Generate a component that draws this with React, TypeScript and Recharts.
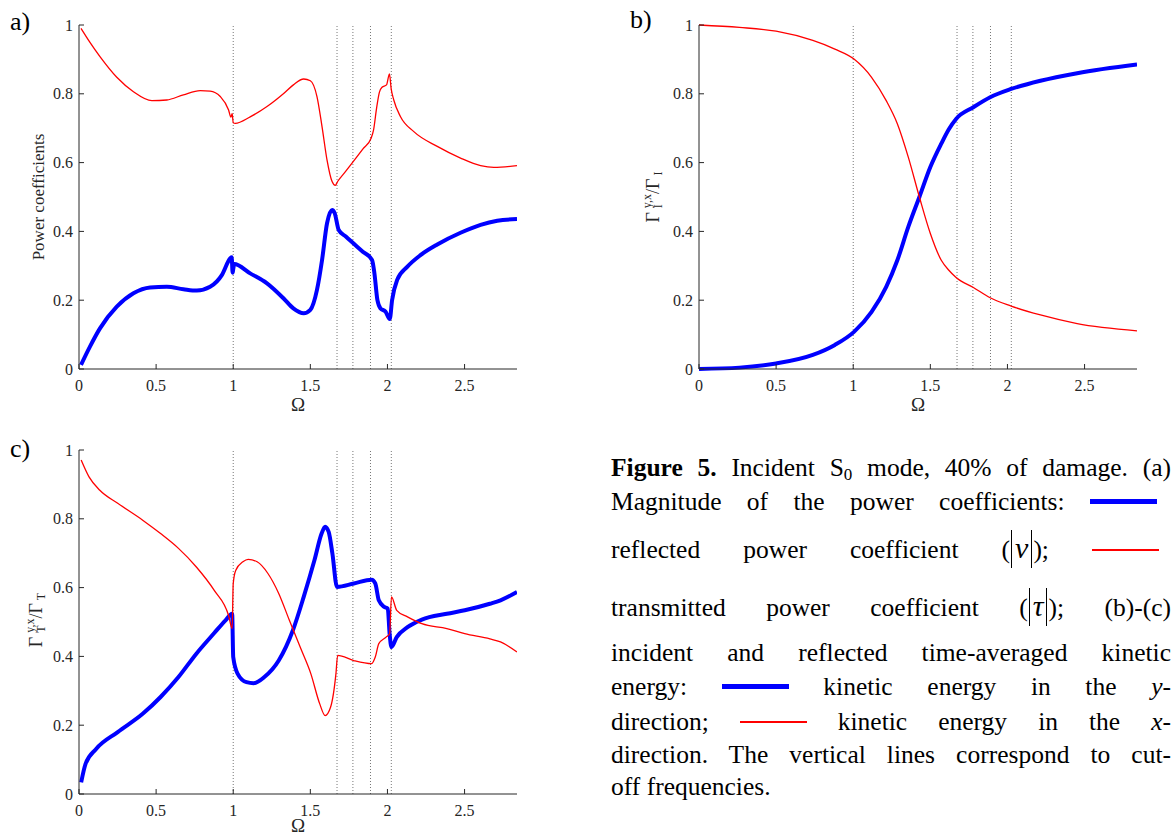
import { LineChart, Line, XAxis, YAxis, ReferenceLine, Label } from 'recharts';

const FONT = 'Liberation Serif, "DejaVu Serif", serif';
const INK = '#262626';
const RED = '#ff0000';
const BLUE = '#0000ff';

const OMEGA_TICKS = [0, 0.5, 1, 1.5, 2, 2.5];
const VALUE_TICKS = [0, 0.2, 0.4, 0.6, 0.8, 1];
const OMEGA_MAX = 2.84;
// cut-off frequencies (dotted verticals)
const CUTOFFS = [1, 1.673, 1.776, 1.89, 2.025];

// a) power coefficients
const A_RED_OMEGA = [0.013, 0.07, 0.136, 0.245, 0.353, 0.472, 0.569, 0.677, 0.786, 0.85, 0.916, 0.97, 0.985, 0.993, 1.0, 1.013, 1.11, 1.219, 1.327, 1.39, 1.457, 1.5, 1.543, 1.576, 1.608, 1.641, 1.662, 1.677, 1.73, 1.84, 1.894, 1.91, 1.93, 1.948, 1.965, 1.994, 2.013, 2.024, 2.041, 2.084, 2.171, 2.323, 2.474, 2.604, 2.69, 2.84];
const A_RED = [0.99, 0.95, 0.908, 0.848, 0.806, 0.78, 0.782, 0.797, 0.809, 0.808, 0.792, 0.753, 0.732, 0.742, 0.716, 0.714, 0.733, 0.763, 0.801, 0.826, 0.843, 0.838, 0.792, 0.704, 0.608, 0.545, 0.534, 0.545, 0.575, 0.639, 0.671, 0.695, 0.76, 0.805, 0.819, 0.826, 0.858, 0.815, 0.782, 0.734, 0.69, 0.647, 0.613, 0.591, 0.586, 0.591];
const A_BLUE_OMEGA = [0.013, 0.071, 0.136, 0.245, 0.353, 0.461, 0.569, 0.677, 0.764, 0.85, 0.926, 0.981, 0.99, 0.996, 1.0, 1.006, 1.11, 1.219, 1.327, 1.39, 1.457, 1.5, 1.543, 1.576, 1.608, 1.641, 1.658, 1.684, 1.73, 1.84, 1.9, 1.915, 1.935, 1.955, 1.987, 2.015, 2.03, 2.063, 2.128, 2.214, 2.323, 2.474, 2.604, 2.712, 2.84];
const A_BLUE = [0.012, 0.065, 0.118, 0.181, 0.22, 0.237, 0.239, 0.232, 0.228, 0.239, 0.273, 0.322, 0.325, 0.28, 0.29, 0.305, 0.278, 0.249, 0.205, 0.176, 0.162, 0.172, 0.23, 0.317, 0.423, 0.462, 0.453, 0.404, 0.385, 0.341, 0.317, 0.28, 0.2, 0.176, 0.167, 0.145, 0.2, 0.259, 0.297, 0.331, 0.362, 0.396, 0.419, 0.431, 0.436];

// b) incident kinetic energy
const B_OMEGA = [0, 0.262, 0.5, 0.738, 0.881, 1.005, 1.119, 1.214, 1.286, 1.357, 1.429, 1.5, 1.571, 1.62, 1.667, 1.779, 1.888, 2.024, 2.214, 2.452, 2.84];
const B_RED = [1.0, 0.993, 0.982, 0.955, 0.93, 0.901, 0.848, 0.78, 0.713, 0.616, 0.5, 0.394, 0.316, 0.287, 0.266, 0.237, 0.207, 0.183, 0.157, 0.132, 0.111];
const B_BLUE = [0, 0.004, 0.016, 0.041, 0.07, 0.108, 0.166, 0.239, 0.316, 0.413, 0.5, 0.587, 0.655, 0.697, 0.727, 0.761, 0.79, 0.814, 0.838, 0.86, 0.885];

// c) transmitted kinetic energy
const C_RED_OMEGA = [0.014, 0.065, 0.135, 0.251, 0.413, 0.529, 0.645, 0.761, 0.877, 0.97, 0.993, 1.0, 1.016, 1.063, 1.097, 1.155, 1.225, 1.295, 1.364, 1.434, 1.503, 1.561, 1.596, 1.631, 1.666, 1.677, 1.782, 1.898, 1.921, 1.944, 1.991, 2.014, 2.026, 2.06, 2.13, 2.223, 2.385, 2.501, 2.664, 2.733, 2.84];
const C_RED = [0.971, 0.922, 0.883, 0.845, 0.796, 0.757, 0.714, 0.66, 0.592, 0.519, 0.481, 0.612, 0.65, 0.675, 0.682, 0.675, 0.641, 0.583, 0.505, 0.427, 0.35, 0.262, 0.228, 0.252, 0.35, 0.403, 0.388, 0.379, 0.398, 0.437, 0.456, 0.466, 0.573, 0.534, 0.515, 0.495, 0.481, 0.466, 0.451, 0.442, 0.413];
const C_BLUE_OMEGA = [0.014, 0.042, 0.111, 0.251, 0.413, 0.529, 0.645, 0.761, 0.877, 0.95, 0.993, 1.0, 1.028, 1.086, 1.132, 1.202, 1.295, 1.387, 1.457, 1.527, 1.573, 1.596, 1.619, 1.643, 1.673, 1.782, 1.898, 1.921, 1.944, 1.979, 2.002, 2.014, 2.026, 2.06, 2.13, 2.223, 2.385, 2.501, 2.664, 2.733, 2.84];
const C_BLUE = [0.034, 0.087, 0.131, 0.18, 0.233, 0.282, 0.34, 0.408, 0.468, 0.505, 0.524, 0.398, 0.35, 0.325, 0.322, 0.34, 0.388, 0.476, 0.573, 0.68, 0.757, 0.777, 0.762, 0.699, 0.602, 0.612, 0.623, 0.612, 0.563, 0.544, 0.539, 0.466, 0.427, 0.456, 0.485, 0.507, 0.524, 0.534, 0.553, 0.563, 0.587];

const toPoints = (xs: number[], ys: number[]) => xs.map((x, i) => ({ x, y: ys[i] }));

const GAP_X = 11;
const GAP_Y = 6;
const TICK_LEN = 5;

function BottomTick(props: any) {
  const { x, y, payload } = props;
  return (
    <g>
      <line x1={x} x2={x} y1={y - GAP_X} y2={y - GAP_X - TICK_LEN} stroke={INK} />
      <text x={x} y={y} dy="0.71em" textAnchor="middle" fontSize={16} fill={INK} fontFamily={FONT}>
        {payload.value}
      </text>
    </g>
  );
}

function LeftTick(props: any) {
  const { x, y, payload } = props;
  return (
    <g>
      <line x1={x + GAP_Y} x2={x + GAP_Y + TICK_LEN} y1={y} y2={y} stroke={INK} />
      <text x={x} y={y} dy="0.35em" textAnchor="end" fontSize={16} fill={INK} fontFamily={FONT}>
        {payload.value}
      </text>
    </g>
  );
}

function TopTick(props: any) {
  const { x, y } = props;
  return <line x1={x} x2={x} y1={y} y2={y + TICK_LEN} stroke={INK} />;
}

function RightTick(props: any) {
  const { x, y } = props;
  return <line x1={x} x2={x - TICK_LEN} y1={y} y2={y} stroke={INK} />;
}

interface PanelProps {
  left: number;
  top: number;
  height: number;
  axisHeight: number;
  labelOffset: number;
  red: { x: number; y: number }[];
  blue: { x: number; y: number }[];
}

function Panel({ left, top, height, axisHeight, labelOffset, red, blue }: PanelProps) {
  return (
    <div style={{ position: 'absolute', left, top }}>
      <LineChart width={540} height={height} margin={{ top: 25, right: 23, bottom: 0, left: 0 }}>
        <XAxis
          dataKey="x"
          type="number"
          domain={[0, OMEGA_MAX]}
          ticks={OMEGA_TICKS}
          interval={0}
          allowDataOverflow
          height={axisHeight}
          tickSize={0}
          tickMargin={GAP_X}
          tickLine={false}
          axisLine={{ stroke: INK }}
          tick={<BottomTick />}
        >
          <Label value="Ω" position="insideBottom" offset={labelOffset} style={{ fontSize: 19, fill: INK, fontFamily: FONT }} />
        </XAxis>
        <XAxis
          xAxisId="top"
          orientation="top"
          type="number"
          domain={[0, OMEGA_MAX]}
          ticks={OMEGA_TICKS}
          interval={0}
          allowDataOverflow
          height={0}
          tickSize={0}
          tickMargin={0}
          tickLine={false}
          axisLine={{ stroke: INK }}
          tick={<TopTick />}
        />
        <YAxis
          type="number"
          domain={[0, 1]}
          ticks={VALUE_TICKS}
          interval={0}
          width={79}
          tickSize={0}
          tickMargin={GAP_Y}
          tickLine={false}
          axisLine={{ stroke: INK }}
          tick={<LeftTick />}
        />
        <YAxis
          yAxisId="right"
          orientation="right"
          type="number"
          domain={[0, 1]}
          ticks={VALUE_TICKS}
          interval={0}
          width={0}
          tickSize={0}
          tickMargin={0}
          tickLine={false}
          axisLine={{ stroke: INK }}
          tick={<RightTick />}
        />
        {CUTOFFS.map((c) => (
          <ReferenceLine key={c} x={c} stroke="#777" strokeDasharray="1 2" />
        ))}
        <Line data={blue} dataKey="y" type="monotone" stroke={BLUE} strokeWidth={4} dot={false} isAnimationActive={false} />
        <Line data={red} dataKey="y" type="monotone" stroke={RED} strokeWidth={1.3} dot={false} isAnimationActive={false} />
      </LineChart>
    </div>
  );
}

function GammaLabel({ sub }: { sub: string }) {
  return (
    <span style={{ display: 'inline-flex', alignItems: 'center', fontSize: 18, lineHeight: '18px' }}>
      <span>Γ</span>
      <span style={{ display: 'inline-flex', flexDirection: 'column', fontSize: 12, lineHeight: '11px', marginLeft: 4 }}>
        <span>y,x</span>
        <span>{sub}</span>
      </span>
      <span>/Γ</span>
      <span style={{ fontSize: 12, position: 'relative', top: 5, marginLeft: 3 }}>{sub}</span>
    </span>
  );
}

function RotatedLabel({ x, y, children }: { x: number; y: number; children: any }) {
  return (
    <div
      style={{
        position: 'absolute',
        left: x,
        top: y,
        transform: 'translate(-50%, -50%) rotate(-90deg)',
        whiteSpace: 'nowrap',
        color: INK,
        fontSize: 17,
        lineHeight: '18px',
      }}
    >
      {children}
    </div>
  );
}

function PanelLetter({ x, y, text }: { x: number; y: number; text: string }) {
  return <div style={{ position: 'absolute', left: x, top: y, fontSize: 26, lineHeight: '26px', color: '#000' }}>{text}</div>;
}

function Abs({ sym }: { sym: string }) {
  return (
    <span style={{ position: 'relative', padding: '0 5px', lineHeight: 0 }}>
      <span style={{ fontStyle: 'italic', fontSize: 30, lineHeight: 0 }}>{sym}</span>
      <span style={{ position: 'absolute', left: 1, top: -5, bottom: -4, borderLeft: '1.2px solid #000' }} />
      <span style={{ position: 'absolute', right: 1, top: -5, bottom: -4, borderLeft: '1.2px solid #000' }} />
    </span>
  );
}

function Swatch({ color, thick, mr }: { color: string; thick: number; mr?: number }) {
  return (
    <span
      style={{
        display: 'inline-block',
        width: 67,
        height: thick,
        background: color,
        verticalAlign: 'middle',
        position: 'relative',
        top: -2,
        marginRight: mr ?? 0,
      }}
    />
  );
}

const CAPTION_BASELINES = [476, 510, 558, 616, 661, 695, 730, 763, 795];
const CAPTION_SIZE = 25.5;

function CaptionLine({ i, last, children }: { i: number; last?: boolean; children: any }) {
  return (
    <div
      style={{
        position: 'absolute',
        left: 611,
        width: 560,
        top: CAPTION_BASELINES[i] - 0.837 * CAPTION_SIZE,
        fontSize: CAPTION_SIZE,
        lineHeight: `${CAPTION_SIZE}px`,
        whiteSpace: 'nowrap',
        textAlign: last ? 'left' : 'justify',
        textAlignLast: last ? 'left' : 'justify',
        color: '#000',
      }}
    >
      {children}
    </div>
  );
}

export default function App() {
  return (
    <div style={{ position: 'absolute', left: 0, top: 0, width: 1174, height: 837, background: '#fff', fontFamily: FONT, overflow: 'hidden' }}>
      <Panel left={0} top={0} height={417} axisHeight={48} labelOffset={6} red={toPoints(A_RED_OMEGA, A_RED)} blue={toPoints(A_BLUE_OMEGA, A_BLUE)} />
      <Panel left={620} top={0} height={417} axisHeight={48} labelOffset={6} red={toPoints(B_OMEGA, B_RED)} blue={toPoints(B_OMEGA, B_BLUE)} />
      <Panel left={0} top={425} height={412} axisHeight={43} labelOffset={5} red={toPoints(C_RED_OMEGA, C_RED)} blue={toPoints(C_BLUE_OMEGA, C_BLUE)} />

      <PanelLetter x={10} y={9} text="a)" />
      <PanelLetter x={630} y={7} text="b)" />
      <PanelLetter x={10} y={436} text="c)" />

      <RotatedLabel x={39} y={197}>Power coefficients</RotatedLabel>
      <RotatedLabel x={653} y={197}><GammaLabel sub="I" /></RotatedLabel>
      <RotatedLabel x={36} y={620}><GammaLabel sub="T" /></RotatedLabel>

      <CaptionLine i={0}>
        <b>Figure 5.</b> Incident S<span style={{ fontSize: 17, position: 'relative', top: 4, lineHeight: 0 }}>0</span> mode, 40% of damage. (a)
      </CaptionLine>
      <CaptionLine i={1}>
        Magnitude of the power coefficients: <Swatch color={BLUE} thick={5} mr={14} />
      </CaptionLine>
      <CaptionLine i={2}>
        reflected power coefficient (<Abs sym="ν" />); <Swatch color={RED} thick={2} mr={12} />
      </CaptionLine>
      <CaptionLine i={3}>
        transmitted power coefficient (<Abs sym="τ" />); (b)-(c)
      </CaptionLine>
      <CaptionLine i={4}>incident and reflected time-averaged kinetic</CaptionLine>
      <CaptionLine i={5}>
        energy: <Swatch color={BLUE} thick={5} /> kinetic energy in the <i>y</i>-
      </CaptionLine>
      <CaptionLine i={6}>
        direction; <Swatch color={RED} thick={2} /> kinetic energy in the <i>x</i>-
      </CaptionLine>
      <CaptionLine i={7}>direction. The vertical lines correspond to cut-</CaptionLine>
      <CaptionLine i={8} last>off frequencies.</CaptionLine>
    </div>
  );
}
